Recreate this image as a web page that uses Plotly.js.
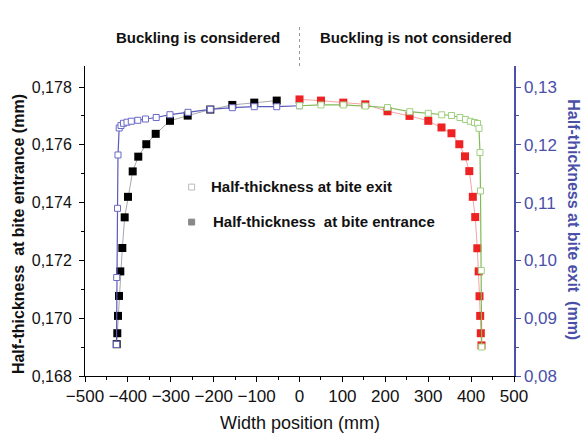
<!DOCTYPE html>
<html>
<head>
<meta charset="utf-8">
<script src="https://cdn.plot.ly/plotly-3.0.1.min.js"></script>
<style>body{margin:0;background:#fff}#chart{width:583px;height:436px}</style>
</head>
<body>
<div id="chart"></div>
<script>
// Half-thickness at bite entrance, buckling considered (left half, left axis, mm)
var entranceLeftX = [-426.1, -424.7, -423.1, -420.7, -417.7, -413.0, -407.5, -399.8, -388.8, -375.8, -357.1, -335.2, -301.9, -260.6, -207.9, -156.6, -105.4, -53.1];
var entranceLeftY = [0.16910, 0.16948, 0.17008, 0.17077, 0.17162, 0.17243, 0.17349, 0.17420, 0.17508, 0.17559, 0.17602, 0.17638, 0.17683, 0.17701, 0.17722, 0.17738, 0.17746, 0.17753];

// Half-thickness at bite exit, buckling considered (left half, right axis, mm)
var exitLeftX = [-426.6, -426.1, -424.2, -423.1, -420.3, -416.1, -410.3, -402.1, -392.1, -376.9, -359.0, -334.0, -301.9, -259.9, -207.9, -156.6, -105.4, -53.1, 0];
var exitLeftY = [0.08545, 0.09704, 0.10901, 0.11824, 0.12291, 0.12334, 0.12372, 0.12391, 0.12408, 0.12424, 0.12446, 0.12472, 0.12521, 0.12562, 0.12614, 0.12642, 0.12659, 0.12659, 0.12676];

// Half-thickness at bite entrance, buckling not considered (right half, left axis, mm)
var entranceRightX = [0, 50.1, 102.1, 153.4, 205.1, 256.4, 300.2, 331.0, 354.3, 372.5, 385.8, 395.8, 404.0, 409.6, 414.5, 417.7, 419.6, 421.2, 422.6, 424.2];
var entranceRightY = [0.17757, 0.17753, 0.17746, 0.17740, 0.17716, 0.17700, 0.17683, 0.17660, 0.17640, 0.17602, 0.17560, 0.17509, 0.17420, 0.17350, 0.17242, 0.17162, 0.17076, 0.17008, 0.16948, 0.16906];

// Half-thickness at bite exit, buckling not considered (right half, right axis, mm)
var exitRightX = [0, 50.1, 102.1, 153.4, 205.1, 257.1, 300.2, 331.5, 354.3, 374.1, 386.9, 398.1, 407.9, 414.9, 418.4, 420.7, 421.9, 423.8, 424.7];
var exitRightY = [0.12676, 0.12689, 0.12689, 0.12671, 0.12645, 0.12573, 0.12545, 0.12519, 0.12507, 0.12472, 0.12438, 0.12407, 0.12386, 0.12369, 0.12285, 0.11867, 0.11201, 0.09825, 0.08502];

var blue = '#4a4fa8';
var font = 'Liberation Sans, Arial, sans-serif';

var traces = [
  {x: entranceLeftX, y: entranceLeftY, type: 'scatter', mode: 'lines+markers', xaxis: 'x', yaxis: 'y',
   line: {color: '#a8a8a8', width: 1}, marker: {symbol: 'square', size: 8, color: '#000'}},
  {x: entranceRightX, y: entranceRightY, type: 'scatter', mode: 'lines+markers', xaxis: 'x', yaxis: 'y',
   line: {color: '#f4a4a4', width: 1}, marker: {symbol: 'square', size: 8, color: '#ee2222'}},
  {x: exitLeftX, y: exitLeftY, type: 'scatter', mode: 'lines+markers', xaxis: 'x', yaxis: 'y2',
   line: {color: '#5a5ab8', width: 1.2}, marker: {symbol: 'square', size: 6, color: '#fff', line: {color: '#6a6ac8', width: 1}}},
  {x: exitRightX, y: exitRightY, type: 'scatter', mode: 'lines+markers', xaxis: 'x', yaxis: 'y2',
   line: {color: '#80bb58', width: 1.2}, marker: {symbol: 'square', size: 6, color: '#fff', line: {color: '#a0d080', width: 1}}}
];

var layout = {
  width: 583, height: 436,
  margin: {l: 85, r: 69, t: 66, b: 60},
  paper_bgcolor: '#fff', plot_bgcolor: '#fff',
  showlegend: false,
  separators: ',.',
  font: {family: font, size: 16, color: '#000'},
  xaxis: {
    range: [-500, 500], dtick: 100, tick0: -500, showgrid: false, zeroline: false,
    showline: true, linecolor: '#000', linewidth: 1,
    ticks: 'outside', ticklen: 5, tickcolor: '#000',
    minor: {dtick: 50, ticklen: 3, tickcolor: '#000', ticks: 'outside'},
    tickfont: {size: 17, family: font, color: '#111'}
  },
  xaxis2: {
    matches: 'x', overlaying: 'x', side: 'top', anchor: 'y',
    range: [-500, 500], dtick: 100, tick0: -500, showgrid: false, zeroline: false,
    showline: true, linecolor: '#000', linewidth: 1,
    ticks: 'inside', ticklen: 4, tickcolor: '#000', showticklabels: false,
    minor: {dtick: 50, ticklen: 4, tickcolor: '#000', ticks: 'inside'}
  },
  yaxis: {
    range: [0.168, 0.178727], dtick: 0.002, tick0: 0.168, tickformat: '.3f',
    showgrid: false, zeroline: false, showline: true, linecolor: '#000', linewidth: 1,
    ticks: 'outside', ticklen: 5, tickcolor: '#000', ticklabelstandoff: 4,
    minor: {dtick: 0.001, ticklen: 3, tickcolor: '#000', ticks: 'outside'},
    tickfont: {size: 16, family: font, color: '#111'}
  },
  yaxis2: {
    overlaying: 'y', side: 'right', anchor: 'x',
    range: [0.08, 0.133633], dtick: 0.01, tick0: 0.08, tickformat: '.2f',
    showgrid: false, zeroline: false, showline: true, linecolor: blue, linewidth: 1.5,
    ticks: 'outside', ticklen: 5, tickcolor: blue,
    minor: {dtick: 0.005, ticklen: 3, tickcolor: blue, ticks: 'outside'},
    tickfont: {size: 17, family: font, color: blue}
  },
  shapes: [
    {type: 'line', xref: 'x', yref: 'paper', x0: 0, x1: 0, y0: 1, y1: 1.135,
     line: {color: '#999', width: 1, dash: 'dot'}},
    {type: 'rect', xref: 'x', yref: 'paper', x0: -258.4, x1: -244.4, y0: 0.600, y1: 0.619,
     line: {color: '#bbb', width: 1}, fillcolor: '#fff'},
    {type: 'rect', xref: 'x', yref: 'paper', x0: -258.4, x1: -244.4, y0: 0.487, y1: 0.506,
     line: {color: '#888', width: 1}, fillcolor: '#888'}
  ],
  annotations: [
    {text: '<b>Buckling is considered</b>', xref: 'x', yref: 'paper', x: -236.6, y: 1.0935,
     showarrow: false, xanchor: 'center', yanchor: 'middle', font: {size: 15, family: font, color: '#111'}},
    {text: '<b>Buckling is not considered</b>', xref: 'x', yref: 'paper', x: 272, y: 1.0935,
     showarrow: false, xanchor: 'center', yanchor: 'middle', font: {size: 15, family: font, color: '#111'}},
    {text: '<b>Half-thickness at bite exit</b>', xref: 'x', yref: 'paper', x: -211, y: 0.6106,
     showarrow: false, xanchor: 'left', yanchor: 'middle', font: {size: 15, family: font, color: '#111'}},
    {text: '<b>Half-thickness  at bite entrance</b>', xref: 'x', yref: 'paper', x: -207, y: 0.4968,
     showarrow: false, xanchor: 'left', yanchor: 'middle', font: {size: 15, family: font, color: '#111'}},
    {text: 'Width position (mm)', xref: 'x', yref: 'paper', x: 0, y: -0.1516,
     showarrow: false, xanchor: 'center', yanchor: 'middle', font: {size: 18, family: font, color: '#111'}},
    {text: '<b>Half-thickness  at bite entrance (mm)</b>', xref: 'paper', yref: 'paper', x: -0.156, y: 0.458,
     textangle: -90, showarrow: false, xanchor: 'center', yanchor: 'middle', font: {size: 16, family: font, color: '#111'}},
    {text: '<b>Half-thickness at bite exit  (mm)</b>', xref: 'paper', yref: 'paper', x: 1.138, y: 0.505,
     textangle: 90, showarrow: false, xanchor: 'center', yanchor: 'middle', font: {size: 16, family: font, color: blue}}
  ]
};

Plotly.newPlot('chart', traces, layout, {displayModeBar: false, staticPlot: true});
</script>
</body>
</html>
